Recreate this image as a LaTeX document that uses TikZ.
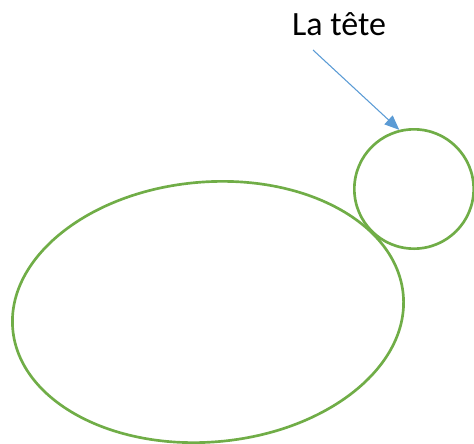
\documentclass[tikz,border=0pt]{standalone}
\usepackage{fontspec}
\setmainfont{Carlito}
\usepackage{tikz}
\usetikzlibrary{arrows.meta,shapes.geometric,positioning}

\definecolor{officegreen}{RGB}{112,173,71}
\definecolor{officeblue}{RGB}{91,155,213}

\begin{document}
\begin{tikzpicture}[x=0.75pt,y=-0.75pt,
part/.style={draw=officegreen, line width=2pt, inner sep=0pt},
pointer/.style={draw=officeblue, line width=0.8pt, -{Triangle[length=11pt,width=9pt]}},
]
\useasboundingbox (0,0) rectangle (474,443);
%Nodes
\node[part, ellipse, minimum width=294pt, minimum height=195pt, rotate=5] (body) at (208,312) {};
\node[part, circle, minimum size=89.5pt] (head) at (414,189) {};
\node[font=\fontsize{25.5}{30}\selectfont, anchor=base] (label) at (339,35) {La tête};
\coordinate (tail) at (313,50);

%Lines
\draw[pointer] (tail) -- (head.104);
\end{tikzpicture}
\end{document}
